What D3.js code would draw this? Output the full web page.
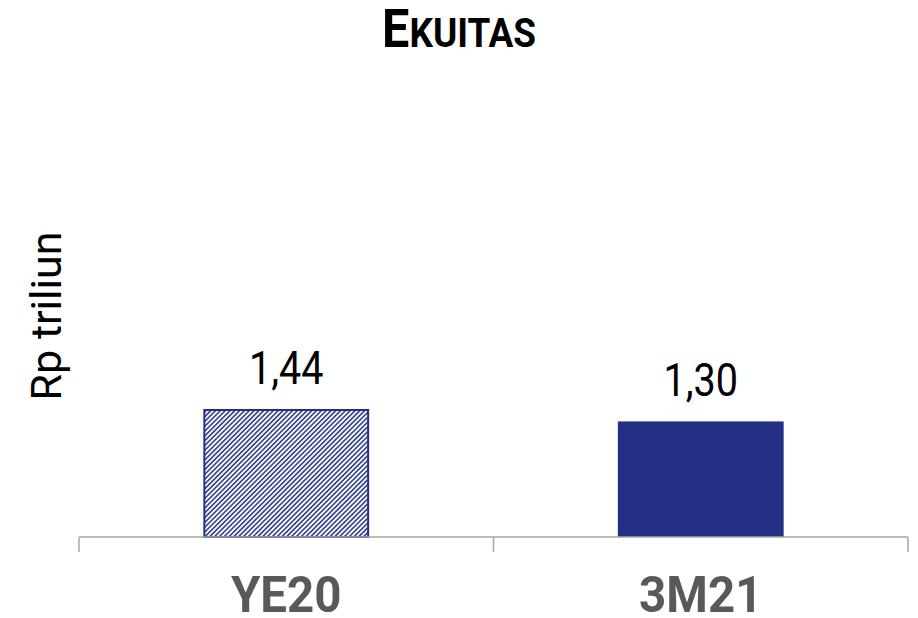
<!DOCTYPE html>
<html>
<head>
<meta charset="utf-8">
<script src="https://cdn.jsdelivr.net/npm/d3@7/dist/d3.min.js"></script>
<style>
  html, body { margin: 0; padding: 0; background: #ffffff; }
  svg { display: block; }
</style>
</head>
<body>
<svg id="chart" width="918" height="618"></svg>
<script>
const categories = ["YE20", "3M21"];
const values = [1.44, 1.30];
const valueLabels = ["1,44", "1,30"];
const titleFirst = "E";
const titleRest = "KUITAS";
const yAxisLabel = "Rp triliun";

const W = 918, H = 618;
const svg = d3.select("#chart");
const navy = "#233085";

const defs = svg.append("defs");
const pat = defs.append("pattern")
  .attr("id", "hatch")
  .attr("patternUnits", "userSpaceOnUse")
  .attr("width", 3.4).attr("height", 3.4)
  .attr("patternTransform", "rotate(45)");
pat.append("rect").attr("width", 3.4).attr("height", 3.4).attr("fill", "#fff");
pat.append("line").attr("x1", 0.8).attr("y1", 0).attr("x2", 0.8).attr("y2", 3.4)
  .attr("stroke", navy).attr("stroke-width", 1.5);

const x = d3.scaleBand().domain(categories).range([79, 908]).padding(0);
const y = d3.scaleLinear().domain([0, 5]).range([537, 92.5]);

const bw = x.bandwidth() * 0.4;

// bars
svg.selectAll("rect.bar").data(categories).enter().append("rect")
  .attr("class", "bar")
  .attr("x", (d, i) => x(d) + (x.bandwidth() - bw) / 2 + (i === 0 ? 1 : 0))
  .attr("y", (d, i) => y(values[i]) + (i === 0 ? 1 : 0))
  .attr("width", (d, i) => bw - (i === 0 ? 2 : 0))
  .attr("height", (d, i) => y(0) - y(values[i]) - (i === 0 ? 1 : 0))
  .attr("fill", (d, i) => i === 0 ? "url(#hatch)" : navy)
  .attr("stroke", (d, i) => i === 0 ? navy : "none")
  .attr("stroke-width", 2);

// axis line and ticks at band edges
const axisG = svg.append("g");
axisG.append("line")
  .attr("x1", x.range()[0]).attr("x2", x.range()[1])
  .attr("y1", y(0)).attr("y2", y(0))
  .attr("stroke", "#a6a6a6").attr("stroke-width", 1.5);
const edges = categories.map(c => x(c)).concat([x(categories[categories.length - 1]) + x.bandwidth()]);
axisG.selectAll("line.tick").data(edges).enter().append("line")
  .attr("class", "tick")
  .attr("x1", d => d).attr("x2", d => d)
  .attr("y1", y(0)).attr("y2", y(0) + 15)
  .attr("stroke", "#a6a6a6").attr("stroke-width", 1.5);

// value labels
svg.selectAll("text.val").data(categories).enter().append("text")
  .attr("class", "val")
  .attr("transform", (d, i) => `translate(${x(d) + x.bandwidth() / 2},${y(values[i]) - 25}) scale(0.86,1)`)
  .attr("text-anchor", "middle")
  .attr("font-family", "Roboto")
  .attr("font-size", 46)
  .attr("fill", "#000")
  .text((d, i) => valueLabels[i]);

// category labels
svg.selectAll("text.cat").data(categories).enter().append("text")
  .attr("class", "cat")
  .attr("transform", d => `translate(${x(d) + x.bandwidth() / 2},612) scale(0.95,1)`)
  .attr("text-anchor", "middle")
  .attr("font-family", "Roboto")
  .attr("font-weight", "bold")
  .attr("font-size", 50)
  .attr("fill", "#595959")
  .text(d => d);

// y axis label
svg.append("text")
  .attr("transform", "translate(61,316) rotate(-90)")
  .attr("text-anchor", "middle")
  .attr("font-family", "Roboto")
  .attr("font-size", 43)
  .attr("fill", "#000")
  .text(yAxisLabel);

// title
const t = svg.append("text")
  .attr("transform", "translate(459,47) scale(0.9,1)")
  .attr("text-anchor", "middle")
  .attr("font-family", "Roboto")
  .attr("font-weight", "bold")
  .attr("fill", "#000");
t.append("tspan").attr("font-size", 54).text(titleFirst);
t.append("tspan").attr("font-size", 41).text(titleRest);
</script>
</body>
</html>
